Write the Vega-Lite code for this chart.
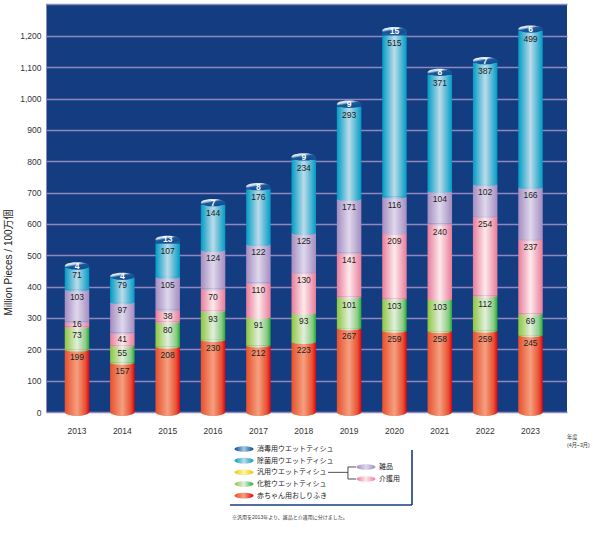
{
"$schema":"https://vega.github.io/schema/vega-lite/v6.json",
"width":521,"height":408,
"autosize":{"type":"none"},
"padding":{"left":46,"top":4,"right":33,"bottom":123},
"background":"#ffffff",
"config":{"font":"Liberation Sans, Noto Sans CJK JP","view":{"fill":"#143c80","stroke":null}},
"datasets":{
"legend":[
{"label":"消毒用ウエットティシュ","col":0,"row":1},
{"label":"除菌用ウエットティシュ","col":0,"row":2},
{"label":"汎用ウエットティシュ","col":0,"row":3},
{"label":"化粧ウエットティシュ","col":0,"row":4},
{"label":"赤ちゃん用おしりふき","col":0,"row":5},
{"label":"雑品","col":1,"row":2.54},
{"label":"介護用","col":1,"row":3.57}
],
"notes":[
{"label":"※汎用を2013年より、雑品と介護用に分けました。","col":-0.098,"row":6.83,"kind":"foot"},
{"label":"年度","col":2.648,"row":-0.07,"kind":"unit"},
{"label":"(4月~3月)","col":2.648,"row":0.62,"kind":"unit"}
],
"box":[
{"c1":1.377,"c2":1.377,"r1":1.09,"r2":5.8},
{"c1":-0.115,"c2":1.377,"r1":5.8,"r2":5.8}
],
"bracket":[
{"c1":0.689,"c2":0.852,"r1":3,"r2":3},
{"c1":0.852,"c2":0.852,"r1":2.54,"r2":3.57},
{"c1":0.852,"c2":0.918,"r1":2.54,"r2":2.54},
{"c1":0.852,"c2":0.918,"r1":3.57,"r2":3.57}
]
},
"resolve":{"scale":{"x":"independent","y":"independent"},"axis":{"x":"independent","y":"independent"}},
"layer":[
{
"data":{"values":[
{"year":"2013","series":"赤ちゃん用おしりふき","value":199},{"year":"2013","series":"化粧ウエットティシュ","value":73},{"year":"2013","series":"介護用","value":16},{"year":"2013","series":"雑品","value":103},{"year":"2013","series":"除菌用ウエットティシュ","value":71},{"year":"2013","series":"消毒用ウエットティシュ","value":4},
{"year":"2014","series":"赤ちゃん用おしりふき","value":157},{"year":"2014","series":"化粧ウエットティシュ","value":55},{"year":"2014","series":"介護用","value":41},{"year":"2014","series":"雑品","value":97},{"year":"2014","series":"除菌用ウエットティシュ","value":79},{"year":"2014","series":"消毒用ウエットティシュ","value":4},
{"year":"2015","series":"赤ちゃん用おしりふき","value":208},{"year":"2015","series":"化粧ウエットティシュ","value":80},{"year":"2015","series":"介護用","value":38},{"year":"2015","series":"雑品","value":105},{"year":"2015","series":"除菌用ウエットティシュ","value":107},{"year":"2015","series":"消毒用ウエットティシュ","value":13},
{"year":"2016","series":"赤ちゃん用おしりふき","value":230},{"year":"2016","series":"化粧ウエットティシュ","value":93},{"year":"2016","series":"介護用","value":70},{"year":"2016","series":"雑品","value":124},{"year":"2016","series":"除菌用ウエットティシュ","value":144},{"year":"2016","series":"消毒用ウエットティシュ","value":7},
{"year":"2017","series":"赤ちゃん用おしりふき","value":212},{"year":"2017","series":"化粧ウエットティシュ","value":91},{"year":"2017","series":"介護用","value":110},{"year":"2017","series":"雑品","value":122},{"year":"2017","series":"除菌用ウエットティシュ","value":176},{"year":"2017","series":"消毒用ウエットティシュ","value":8},
{"year":"2018","series":"赤ちゃん用おしりふき","value":223},{"year":"2018","series":"化粧ウエットティシュ","value":93},{"year":"2018","series":"介護用","value":130},{"year":"2018","series":"雑品","value":125},{"year":"2018","series":"除菌用ウエットティシュ","value":234},{"year":"2018","series":"消毒用ウエットティシュ","value":9},
{"year":"2019","series":"赤ちゃん用おしりふき","value":267},{"year":"2019","series":"化粧ウエットティシュ","value":101},{"year":"2019","series":"介護用","value":141},{"year":"2019","series":"雑品","value":171},{"year":"2019","series":"除菌用ウエットティシュ","value":293},{"year":"2019","series":"消毒用ウエットティシュ","value":9},
{"year":"2020","series":"赤ちゃん用おしりふき","value":259},{"year":"2020","series":"化粧ウエットティシュ","value":103},{"year":"2020","series":"介護用","value":209},{"year":"2020","series":"雑品","value":116},{"year":"2020","series":"除菌用ウエットティシュ","value":515},{"year":"2020","series":"消毒用ウエットティシュ","value":15},
{"year":"2021","series":"赤ちゃん用おしりふき","value":258},{"year":"2021","series":"化粧ウエットティシュ","value":103},{"year":"2021","series":"介護用","value":240},{"year":"2021","series":"雑品","value":104},{"year":"2021","series":"除菌用ウエットティシュ","value":371},{"year":"2021","series":"消毒用ウエットティシュ","value":8},
{"year":"2022","series":"赤ちゃん用おしりふき","value":259},{"year":"2022","series":"化粧ウエットティシュ","value":112},{"year":"2022","series":"介護用","value":254},{"year":"2022","series":"雑品","value":102},{"year":"2022","series":"除菌用ウエットティシュ","value":387},{"year":"2022","series":"消毒用ウエットティシュ","value":7},
{"year":"2023","series":"赤ちゃん用おしりふき","value":245},{"year":"2023","series":"化粧ウエットティシュ","value":69},{"year":"2023","series":"介護用","value":237},{"year":"2023","series":"雑品","value":166},{"year":"2023","series":"除菌用ウエットティシュ","value":499},{"year":"2023","series":"消毒用ウエットティシュ","value":6}
]},
"transform":[
{"calculate":"indexof(['赤ちゃん用おしりふき','化粧ウエットティシュ','介護用','雑品','除菌用ウエットティシュ','消毒用ウエットティシュ'],datum.series)","as":"order"},
{"stack":"value","groupby":["year"],"sort":[{"field":"order","order":"ascending"}],"as":["y0","y1"]},
{"calculate":"datum.order==5 ? datum.y1-datum.value/2 : datum.y1-min(25,datum.value/2)","as":"labelY"}
],
"encoding":{
"x":{"field":"year","type":"nominal","title":null,"scale":{"type":"band","paddingInner":0.46,"paddingOuter":0.474,"align":0.436},"axis":{"labelAngle":0,"labelPadding":14,"labelFontSize":8.5,"labelColor":"#333333","domain":false,"ticks":false,"title":null}},
"y":{"field":"y0","type":"quantitative","title":"Million Pieces / 100万個","scale":{"domain":[0,1302],"nice":false,"zero":false},"axis":{"values":[0,100,200,300,400,500,600,700,800,900,1000,1100,1200,1302],"labelExpr":"datum.value>1250?'':format(datum.value,',')","labelFontSize":8.5,"labelColor":"#333333","labelPadding":5,"ticks":false,"domain":true,"domainColor":"#8f88c0","domainWidth":1,"grid":true,"gridColor":"#8f88c0","gridWidth":1.3,"gridOpacity":1,"title":"Million Pieces / 100万個","titleFontSize":10,"titleFontWeight":"normal","titleColor":"#222222","titleX":-33,"titleY":258}}
},
"layer":[
{"transform":[{"filter":"datum.order==0"}],"mark":{"type":"bar","fill":{"gradient":"linear","x1":0,"y1":0,"x2":1,"y2":0,"stops":[{"offset":0,"color":"#e8502c"},{"offset":0.5,"color":"#f4a080"},{"offset":0.85,"color":"#e85030"},{"offset":1,"color":"#e60012"}]}},"encoding":{"y2":{"field":"y1"}}},
{"transform":[{"filter":"datum.order==0"}],"mark":{"type":"point","filled":true,"opacity":1,"size":600,"shape":"M-1,0 A1,0.33 0 0 0 1,0 Z","fill":{"gradient":"linear","x1":0,"y1":0,"x2":1,"y2":0,"stops":[{"offset":0,"color":"#e8502c"},{"offset":0.5,"color":"#f4a080"},{"offset":0.85,"color":"#e85030"},{"offset":1,"color":"#e60012"}]}}},
{"transform":[{"filter":"datum.order==1"}],"mark":{"type":"bar","fill":{"gradient":"linear","x1":0,"y1":0,"x2":1,"y2":0,"stops":[{"offset":0,"color":"#8cc63f"},{"offset":0.5,"color":"#e2efdc"},{"offset":0.85,"color":"#8ccb84"},{"offset":1,"color":"#22ac38"}]}},"encoding":{"y2":{"field":"y1"}}},
{"transform":[{"filter":"datum.order==1"}],"mark":{"type":"point","filled":true,"opacity":1,"size":600,"shape":"M-1,0 A1,0.16 0 0 0 1,0 Z","fill":{"gradient":"linear","x1":0,"y1":0,"x2":1,"y2":0,"stops":[{"offset":0,"color":"#8cc63f"},{"offset":0.5,"color":"#e2efdc"},{"offset":0.85,"color":"#8ccb84"},{"offset":1,"color":"#22ac38"}]}}},
{"transform":[{"filter":"datum.order==2"}],"mark":{"type":"bar","fill":{"gradient":"linear","x1":0,"y1":0,"x2":1,"y2":0,"stops":[{"offset":0,"color":"#e87c9c"},{"offset":0.5,"color":"#fdeaea"},{"offset":1,"color":"#e87c9c"}]}},"encoding":{"y2":{"field":"y1"}}},
{"transform":[{"filter":"datum.order==2"}],"mark":{"type":"point","filled":true,"opacity":1,"size":600,"shape":"M-1,0 A1,0.16 0 0 0 1,0 Z","fill":{"gradient":"linear","x1":0,"y1":0,"x2":1,"y2":0,"stops":[{"offset":0,"color":"#e87c9c"},{"offset":0.5,"color":"#fdeaea"},{"offset":1,"color":"#e87c9c"}]}}},
{"transform":[{"filter":"datum.order==3"}],"mark":{"type":"bar","fill":{"gradient":"linear","x1":0,"y1":0,"x2":1,"y2":0,"stops":[{"offset":0,"color":"#a48cc0"},{"offset":0.5,"color":"#dfd8ec"},{"offset":1,"color":"#a48cc0"}]}},"encoding":{"y2":{"field":"y1"}}},
{"transform":[{"filter":"datum.order==3"}],"mark":{"type":"point","filled":true,"opacity":1,"size":600,"shape":"M-1,0 A1,0.16 0 0 0 1,0 Z","fill":{"gradient":"linear","x1":0,"y1":0,"x2":1,"y2":0,"stops":[{"offset":0,"color":"#a48cc0"},{"offset":0.5,"color":"#dfd8ec"},{"offset":1,"color":"#a48cc0"}]}}},
{"transform":[{"filter":"datum.order==4"}],"mark":{"type":"bar","fill":{"gradient":"linear","x1":0,"y1":0,"x2":1,"y2":0,"stops":[{"offset":0,"color":"#009cc4"},{"offset":0.5,"color":"#bcdbea"},{"offset":1,"color":"#009cc4"}]}},"encoding":{"y2":{"field":"y1"}}},
{"transform":[{"filter":"datum.order==4"}],"mark":{"type":"point","filled":true,"opacity":1,"size":600,"shape":"M-1,0 A1,0.16 0 0 0 1,0 Z","fill":{"gradient":"linear","x1":0,"y1":0,"x2":1,"y2":0,"stops":[{"offset":0,"color":"#009cc4"},{"offset":0.5,"color":"#bcdbea"},{"offset":1,"color":"#009cc4"}]}}},
{"transform":[{"filter":"datum.order==5"}],"mark":{"type":"bar","fill":"#1a5a9c"},"encoding":{"y2":{"field":"y1"}}},
{"transform":[{"filter":"datum.order==5"}],"mark":{"type":"point","filled":true,"opacity":1,"size":600,"shape":"M-1,0 A1,0.3 0 1 1 1,0 A1,0.3 0 1 1 -1,0 Z","fill":{"gradient":"linear","x1":0.1,"y1":0,"x2":0.7,"y2":1,"stops":[{"offset":0,"color":"#ffffff"},{"offset":0.3,"color":"#c8dcec"},{"offset":0.5,"color":"#1a5a9c"},{"offset":1,"color":"#0f4a90"}]}},"encoding":{"y":{"field":"y1","type":"quantitative"}}},
{"transform":[{"filter":"datum.order<5"}],"mark":{"type":"text","fontSize":8.5,"color":"#222222","baseline":"middle"},"encoding":{"y":{"field":"labelY","type":"quantitative"},"text":{"field":"value","type":"quantitative"}}},
{"transform":[{"filter":"datum.order==5"}],"mark":{"type":"text","fontSize":8.5,"fontWeight":"bold","color":"#ffffff","baseline":"middle"},"encoding":{"y":{"field":"y1","type":"quantitative"},"text":{"field":"value","type":"quantitative"}}}
]
},
{
"encoding":{
"x":{"field":"col","type":"quantitative","scale":{"domain":[0,1],"range":[198,320],"nice":false,"zero":false},"axis":null},
"y":{"field":"row","type":"quantitative","scale":{"domain":[1,5],"range":[445,491.7],"nice":false,"zero":false},"axis":null}
},
"layer":[
{"data":{"name":"box"},"mark":{"type":"rule","color":"#143c80","strokeWidth":1.6},"encoding":{"x":{"field":"c1","type":"quantitative"},"x2":{"field":"c2"},"y":{"field":"r1","type":"quantitative"},"y2":{"field":"r2"}}},
{"data":{"name":"bracket"},"mark":{"type":"rule","color":"#222222","strokeWidth":0.8},"encoding":{"x":{"field":"c1","type":"quantitative"},"x2":{"field":"c2"},"y":{"field":"r1","type":"quantitative"},"y2":{"field":"r2"}}},
{"data":{"name":"legend"},"transform":[{"filter":"datum.label=='消毒用ウエットティシュ'"}],"mark":{"type":"point","filled":true,"opacity":1,"size":361,"shape":"M-1,0 A1,0.3 0 1 1 1,0 A1,0.3 0 1 1 -1,0 Z","fill":{"gradient":"linear","x1":0,"y1":0,"x2":1,"y2":0,"stops":[{"offset":0,"color":"#0b4a8c"},{"offset":0.5,"color":"#a8c8e0"},{"offset":1,"color":"#0b4a8c"}]}}},
{"data":{"name":"legend"},"transform":[{"filter":"datum.label=='除菌用ウエットティシュ'"}],"mark":{"type":"point","filled":true,"opacity":1,"size":361,"shape":"M-1,0 A1,0.3 0 1 1 1,0 A1,0.3 0 1 1 -1,0 Z","fill":{"gradient":"linear","x1":0,"y1":0,"x2":1,"y2":0,"stops":[{"offset":0,"color":"#009cc4"},{"offset":0.5,"color":"#bcdbea"},{"offset":1,"color":"#009cc4"}]}}},
{"data":{"name":"legend"},"transform":[{"filter":"datum.label=='汎用ウエットティシュ'"}],"mark":{"type":"point","filled":true,"opacity":1,"size":361,"shape":"M-1,0 A1,0.3 0 1 1 1,0 A1,0.3 0 1 1 -1,0 Z","fill":{"gradient":"linear","x1":0,"y1":0,"x2":1,"y2":0,"stops":[{"offset":0,"color":"#eec900"},{"offset":0.5,"color":"#fdf4b0"},{"offset":1,"color":"#eec900"}]}}},
{"data":{"name":"legend"},"transform":[{"filter":"datum.label=='化粧ウエットティシュ'"}],"mark":{"type":"point","filled":true,"opacity":1,"size":361,"shape":"M-1,0 A1,0.3 0 1 1 1,0 A1,0.3 0 1 1 -1,0 Z","fill":{"gradient":"linear","x1":0,"y1":0,"x2":1,"y2":0,"stops":[{"offset":0,"color":"#8cc63f"},{"offset":0.5,"color":"#e2efdc"},{"offset":1,"color":"#22ac38"}]}}},
{"data":{"name":"legend"},"transform":[{"filter":"datum.label=='赤ちゃん用おしりふき'"}],"mark":{"type":"point","filled":true,"opacity":1,"size":361,"shape":"M-1,0 A1,0.3 0 1 1 1,0 A1,0.3 0 1 1 -1,0 Z","fill":{"gradient":"linear","x1":0,"y1":0,"x2":1,"y2":0,"stops":[{"offset":0,"color":"#e8502c"},{"offset":0.5,"color":"#f4a080"},{"offset":1,"color":"#e60012"}]}}},
{"data":{"name":"legend"},"transform":[{"filter":"datum.label=='雑品'"}],"mark":{"type":"point","filled":true,"opacity":1,"size":361,"shape":"M-1,0 A1,0.3 0 1 1 1,0 A1,0.3 0 1 1 -1,0 Z","fill":{"gradient":"linear","x1":0,"y1":0,"x2":1,"y2":0,"stops":[{"offset":0,"color":"#a48cc0"},{"offset":0.5,"color":"#dfd8ec"},{"offset":1,"color":"#a48cc0"}]}}},
{"data":{"name":"legend"},"transform":[{"filter":"datum.label=='介護用'"}],"mark":{"type":"point","filled":true,"opacity":1,"size":361,"shape":"M-1,0 A1,0.3 0 1 1 1,0 A1,0.3 0 1 1 -1,0 Z","fill":{"gradient":"linear","x1":0,"y1":0,"x2":1,"y2":0,"stops":[{"offset":0,"color":"#e87c9c"},{"offset":0.5,"color":"#fdeaea"},{"offset":1,"color":"#e87c9c"}]}}},
{"data":{"name":"legend"},"mark":{"type":"text","align":"left","baseline":"middle","dx":13,"fontSize":7,"color":"#222222"},"encoding":{"text":{"field":"label"}}},
{"data":{"name":"notes"},"transform":[{"filter":"datum.kind=='foot'"}],"mark":{"type":"text","align":"left","baseline":"middle","fontSize":5,"color":"#333333"},"encoding":{"text":{"field":"label"}}},
{"data":{"name":"notes"},"transform":[{"filter":"datum.kind=='unit'"}],"mark":{"type":"text","align":"left","baseline":"middle","fontSize":5.2,"color":"#333333"},"encoding":{"text":{"field":"label"}}}
]
}
]
}
